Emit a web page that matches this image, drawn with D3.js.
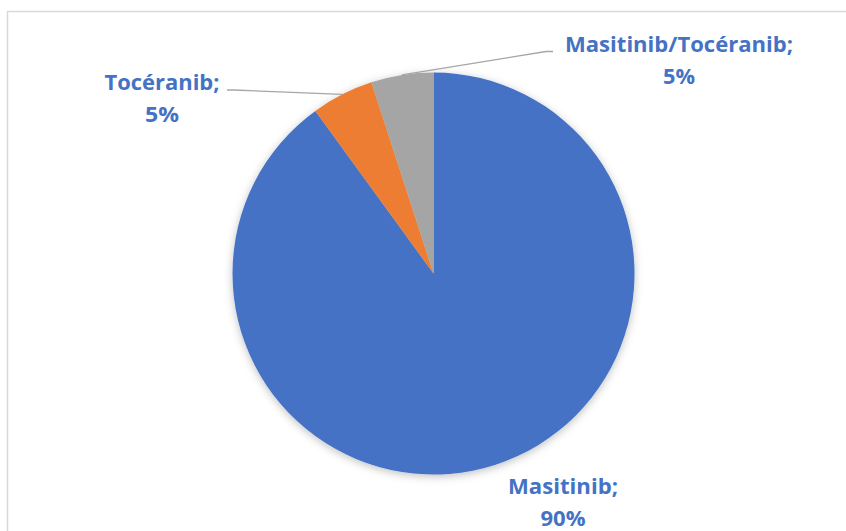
<!DOCTYPE html>
<html><head><meta charset="utf-8">
<script src="https://cdn.jsdelivr.net/npm/d3@7"></script>
<style>html,body{margin:0;padding:0;background:#fff;}svg{display:block;}</style>
</head><body>
<svg id="chart" width="846" height="531"></svg>
<script>
const categories = ["Masitinib", "Tocéranib", "Masitinib/Tocéranib"];
const values = [90, 5, 5];
const colors = ["#4472C4", "#ED7D31", "#A5A5A5"];
const labelLines = [["Masitinib;", "90%"], ["Tocéranib;", "5%"], ["Masitinib/Tocéranib;", "5%"]];

const svg = d3.select("#chart");
const W = 846, H = 531;
const cx = 433.5, cy = 273.5, r = 201;

// frame
svg.append("line").attr("x1", 7).attr("x2", W).attr("y1", 11.5).attr("y2", 11.5).attr("stroke", "#D9D9D9").attr("stroke-width", 1.5);
svg.append("line").attr("x1", 7.5).attr("x2", 7.5).attr("y1", 11).attr("y2", H).attr("stroke", "#D9D9D9").attr("stroke-width", 1.5);

const defs = svg.append("defs");
const f = defs.append("filter").attr("id", "sh").attr("x", "-10%").attr("y", "-10%").attr("width", "120%").attr("height", "120%");
f.append("feDropShadow").attr("dx", 0).attr("dy", 2).attr("stdDeviation", 4).attr("flood-color", "#000").attr("flood-opacity", 0.25);

const pie = d3.pie().sort(null).value(d => d)(values);
const arc = d3.arc().innerRadius(0).outerRadius(r);
const g = svg.append("g").attr("transform", `translate(${cx},${cy})`);
g.append("g").attr("filter", "url(#sh)").selectAll("path").data(pie).join("path")
  .attr("d", arc).attr("fill", (d, i) => colors[i]);

// label layout: center x, first baseline, line widths
const labelPos = [[563, 493.5], [162, 89.5], [679, 52.3]];
const labelWidths = [[110, 45], [115, 34], [228, 32]];
const font = "'Open Sans', Lato, sans-serif";

// leader lines for small slices
const edge = d3.arc().innerRadius(r).outerRadius(r);
[[1, 227, 90], [2, 553, 51.5]].forEach(([i, lx, ly]) => {
  const c = edge.centroid(pie[i]);
  const px = cx + c[0], py = cy + c[1];
  const dir = lx < px ? 1 : -1;
  svg.append("polyline")
    .attr("points", `${lx},${ly} ${lx + dir * 7},${ly} ${px},${py}`)
    .attr("fill", "none").attr("stroke", "#A6A6A6").attr("stroke-width", 1.3);
});

labelLines.forEach((lines, i) => {
  lines.forEach((s, k) => {
    const w = labelWidths[i][k];
    svg.append("text")
      .attr("x", labelPos[i][0] - w / 2).attr("y", labelPos[i][1] + k * 32)
      .attr("fill", "#4472C4")
      .attr("font-family", font).attr("font-weight", "bold").attr("font-size", 22)
      .attr("textLength", w).attr("lengthAdjust", "spacingAndGlyphs")
      .text(s);
  });
});
</script>
</body></html>
